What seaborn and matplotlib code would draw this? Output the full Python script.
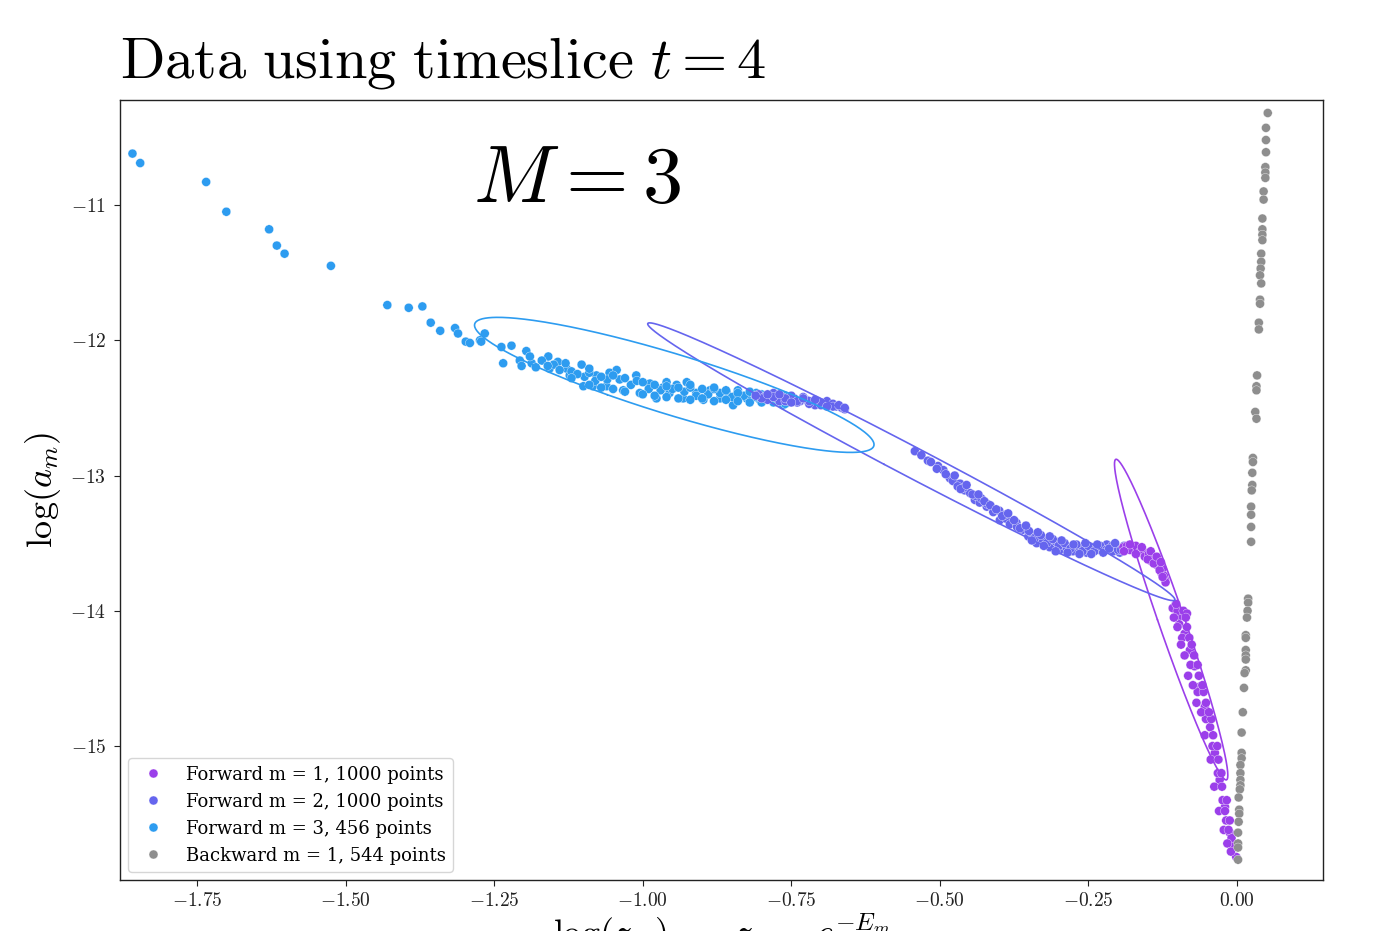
import numpy as np
import pandas as pd
import matplotlib
matplotlib.use("Agg")
import matplotlib.pyplot as plt
import seaborn as sns
from matplotlib.ticker import FixedLocator, FuncFormatter

# ---------------- data ----------------
series_names = ["Forward m = 1, 1000 points", "Forward m = 2, 1000 points",
                "Forward m = 3, 456 points", "Backward m = 1, 544 points"]
series_colors = ["#9B3FEA", "#6565EE", "#2D9CF0", "#8E8E8E"]

m3_x = [-1.859, -1.846, -1.735, -1.701, -1.629, -1.616, -1.603, -1.525, -1.430, -1.394,
        -1.371, -1.357, -1.341, -1.316, -1.311, -1.298, -1.291, -1.274, -1.266, -1.272,
        -1.238, -1.221, -1.235, -1.207, -1.196, -1.204, -1.187, -1.159, -1.157, -1.143,
        -1.128, -1.123, -1.103, -1.098, -1.100, -1.078, -1.084, -1.061, -1.056, -1.044,
        -1.039, -1.033, -1.011, -1.005, -0.988, -0.977, -0.966, -0.955, -0.943, -0.926,
        -0.932, -0.910, -0.898, -0.887, -0.870, -0.859, -0.848, -0.842, -0.825, -0.809,
        -0.803, -0.786, -0.775, -0.764, -1.080, -1.060, -1.020, -0.990, -0.970, -0.950,
        -0.930, -0.910, -0.890, -0.870, -0.850, -0.830, -0.810, -0.790, -0.770, -1.120,
        -1.150, -1.170, -1.010, -0.960, -0.920, -0.880, -0.840, -0.800, -0.760, -0.740,
        -1.09, -1.09, -1.07, -1.07, -1.05, -1.05, -1.03, -1.03, -1.00, -1.00,
        -0.98, -0.98, -0.96, -0.96, -0.94, -0.94, -0.92, -0.92, -0.90, -0.90,
        -0.88, -0.88, -0.86, -0.86, -0.84, -0.84, -0.82, -0.82, -0.80, -0.80,
        -0.78, -0.78, -0.76, -0.76, -1.19, -1.18, -1.16, -1.14, -1.13, -1.11,
        -1.12, -1.09]
m3_y = [-10.62, -10.69, -10.83, -11.05, -11.18, -11.30, -11.36, -11.45, -11.74, -11.76,
        -11.75, -11.87, -11.93, -11.91, -11.95, -12.01, -12.02, -12.00, -11.95, -12.01,
        -12.05, -12.04, -12.17, -12.15, -12.08, -12.19, -12.17, -12.12, -12.21, -12.16,
        -12.21, -12.26, -12.18, -12.27, -12.34, -12.26, -12.34, -12.34, -12.24, -12.22,
        -12.29, -12.37, -12.26, -12.39, -12.32, -12.43, -12.35, -12.39, -12.33, -12.31,
        -12.43, -12.39, -12.44, -12.37, -12.43, -12.38, -12.48, -12.40, -12.43, -12.39,
        -12.44, -12.43, -12.45, -12.48, -12.30, -12.29, -12.33, -12.36, -12.37, -12.36,
        -12.38, -12.41, -12.40, -12.39, -12.42, -12.41, -12.42, -12.41, -12.42, -12.23,
        -12.18, -12.15, -12.30, -12.31, -12.35, -12.36, -12.37, -12.40, -12.44, -12.45,
        -12.24, -12.33, -12.27, -12.35, -12.26, -12.36, -12.28, -12.38, -12.31, -12.40,
        -12.33, -12.41, -12.34, -12.42, -12.35, -12.43, -12.33, -12.44, -12.36, -12.43,
        -12.35, -12.45, -12.37, -12.44, -12.39, -12.45, -12.38, -12.46, -12.42, -12.46,
        -12.43, -12.46, -12.41, -12.47, -12.12, -12.20, -12.19, -12.22, -12.17, -12.25,
        -12.28, -12.21]

m2_x = [-0.805, -0.795, -0.785, -0.775, -0.765, -0.755, -0.745, -0.735, -0.725, -0.715,
        -0.705, -0.695, -0.685, -0.675, -0.665, -0.660, -0.790, -0.770, -0.750, -0.730,
        -0.710, -0.690, -0.700, -0.720, -0.740, -0.760, -0.780, -0.680,
        -0.800, -0.780, -0.760, -0.740, -0.720, -0.700, -0.680, -0.670, -0.660, -0.770,
        -0.750, -0.730, -0.710, -0.690, -0.810, -0.790,
        -0.542, -0.531, -0.520, -0.503, -0.494, -0.483, -0.478, -0.466, -0.458, -0.449,
        -0.441, -0.433, -0.421, -0.410, -0.399, -0.388, -0.382, -0.371, -0.360, -0.351,
        -0.343, -0.337, -0.326, -0.315, -0.304, -0.298, -0.287, -0.276, -0.264, -0.253,
        -0.242, -0.231, -0.219, -0.208, -0.203, -0.197, -0.470, -0.460, -0.440, -0.430,
        -0.420, -0.400, -0.390, -0.370, -0.350, -0.340, -0.330, -0.320, -0.310, -0.300,
        -0.290, -0.280, -0.270, -0.260, -0.250, -0.240, -0.230, -0.220, -0.210, -0.200,
        -0.190, -0.515, -0.505, -0.490, -0.475, -0.465, -0.455, -0.445, -0.435, -0.425,
        -0.415, -0.405, -0.395, -0.385, -0.375, -0.365, -0.355, -0.345, -0.335, -0.325,
        -0.315, -0.305, -0.295, -0.285, -0.275, -0.265, -0.255, -0.245, -0.235, -0.225,
        -0.215, -0.205, -0.195]
m2_y = [-12.40, -12.42, -12.41, -12.43, -12.42, -12.44, -12.43, -12.45, -12.44, -12.46,
        -12.45, -12.47, -12.48, -12.49, -12.50, -12.51, -12.44, -12.45, -12.41, -12.42,
        -12.48, -12.45, -12.48, -12.47, -12.46, -12.45, -12.39, -12.47,
        -12.43, -12.42, -12.43, -12.45, -12.45, -12.46, -12.49, -12.48, -12.50, -12.40,
        -12.46, -12.43, -12.44, -12.49, -12.41, -12.40,
        -12.82, -12.85, -12.89, -12.93, -12.96, -13.02, -13.04, -13.06, -13.11, -13.13,
        -13.18, -13.20, -13.23, -13.27, -13.33, -13.32, -13.36, -13.35, -13.40, -13.45,
        -13.44, -13.50, -13.48, -13.53, -13.49, -13.55, -13.53, -13.56, -13.54, -13.57,
        -13.53, -13.55, -13.51, -13.56, -13.53, -13.57, -13.08, -13.09, -13.15, -13.17,
        -13.21, -13.26, -13.29, -13.38, -13.41, -13.46, -13.44, -13.50, -13.47, -13.52,
        -13.50, -13.54, -13.51, -13.56, -13.52, -13.56, -13.52, -13.55, -13.52, -13.55,
        -13.52, -12.90, -12.95, -12.99, -13.00, -13.10, -13.07, -13.14, -13.14, -13.19,
        -13.22, -13.25, -13.30, -13.28, -13.33, -13.39, -13.37, -13.48, -13.42, -13.52,
        -13.45, -13.56, -13.48, -13.57, -13.51, -13.58, -13.50, -13.58, -13.51, -13.57,
        -13.54, -13.50, -13.55]

m1_x = [-0.191, -0.175, -0.163, -0.152, -0.141, -0.132, -0.127, -0.121, -0.185, -0.180,
        -0.170, -0.165, -0.158, -0.155, -0.148, -0.145, -0.138, -0.135, -0.130, -0.125,
        -0.123, -0.190, -0.180, -0.170, -0.160, -0.150, -0.145, -0.140, -0.135, -0.130,
        -0.128, -0.120, -0.125,
        -0.104, -0.096, -0.088, -0.079, -0.071, -0.062, -0.054, -0.045, -0.037, -0.029,
        -0.020, -0.012, -0.006, -0.001, -0.108, -0.100, -0.090, -0.092, -0.080, -0.078,
        -0.066, -0.066, -0.056, -0.052, -0.043, -0.041, -0.033, -0.032, -0.026, -0.024,
        -0.017, -0.018, -0.012, -0.009, -0.084, -0.097,
        -0.102, -0.106, -0.086, -0.100, -0.084, -0.094, -0.076, -0.088, -0.072, -0.082,
        -0.064, -0.074, -0.058, -0.068, -0.052, -0.060, -0.047, -0.054, -0.040, -0.044,
        -0.031, -0.038, -0.025, -0.030, -0.020, -0.022, -0.014, -0.016, -0.010]
m1_y = [-13.53, -13.54, -13.55, -13.59, -13.62, -13.67, -13.72, -13.77, -13.52, -13.55,
        -13.52, -13.57, -13.56, -13.60, -13.58, -13.63, -13.61, -13.66, -13.64, -13.69,
        -13.74, -13.56, -13.51, -13.58, -13.53, -13.62, -13.56, -13.65, -13.60, -13.70,
        -13.64, -13.79, -13.75,
        -13.96, -14.04, -14.17, -14.29, -14.41, -14.56, -14.71, -14.86, -15.05, -15.25,
        -15.45, -15.64, -15.74, -15.82, -13.98, -14.00, -14.00, -14.20, -14.20, -14.40,
        -14.40, -14.60, -14.60, -14.80, -14.80, -15.00, -15.00, -15.20, -15.20, -15.40,
        -15.40, -15.55, -15.55, -15.68, -14.02, -14.10,
        -13.95, -14.05, -14.05, -14.12, -14.12, -14.25, -14.25, -14.33, -14.33, -14.48,
        -14.48, -14.55, -14.55, -14.68, -14.68, -14.75, -14.75, -14.92, -14.92, -15.10,
        -15.10, -15.30, -15.30, -15.48, -15.48, -15.62, -15.62, -15.72, -15.78]

bw_x = [0.052, 0.049, 0.049, 0.049, 0.048, 0.048, 0.048, 0.045, 0.045, 0.043,
        0.043, 0.043, 0.043, 0.041, 0.041, 0.040, 0.039, 0.041, 0.039, 0.039,
        0.037, 0.037, 0.034, 0.033, 0.033, 0.031, 0.033, 0.027, 0.027, 0.026,
        0.026, 0.025, 0.024, 0.024, 0.024, 0.024,
        0.019, 0.019, 0.018, 0.017, 0.015, 0.015, 0.015, 0.015, 0.015, 0.015,
        0.013, 0.012, 0.010, 0.008, 0.008, 0.008, 0.006, 0.006, 0.006, 0.006,
        0.005, 0.003, 0.004, 0.004, 0.003, 0.002, 0.002, 0.002, 0.002]
bw_y = [-10.32, -10.43, -10.52, -10.61, -10.72, -10.76, -10.80, -10.90, -10.96, -11.10,
        -11.18, -11.22, -11.26, -11.36, -11.42, -11.47, -11.52, -11.58, -11.70, -11.73,
        -11.87, -11.92, -12.26, -12.34, -12.37, -12.53, -12.58, -12.87, -12.90, -12.98,
        -13.07, -13.11, -13.23, -13.29, -13.38, -13.49,
        -13.91, -13.94, -14.00, -14.05, -14.18, -14.20, -14.29, -14.33, -14.36, -14.44,
        -14.46, -14.57, -14.75, -14.90, -15.05, -15.09, -15.14, -15.20, -15.25, -15.29,
        -15.32, -15.38, -15.47, -15.50, -15.56, -15.64, -15.72, -15.75, -15.84]

# Gaussian ellipses fitted to the forward series (m = 1, 2, 3)
ell_color_idx = [0, 1, 2]
ell_cx = [-0.1106, -0.5480, -0.9470]
ell_cy = [-14.065, -12.898, -12.330]
ell_sxx = [0.009096, 0.19692, 0.11305]
ell_syy = [1.40466, 1.05371, 0.24919]
ell_sxy = [-0.10965, -0.45212, -0.14826]

x_ticks = [-1.75, -1.50, -1.25, -1.00, -0.75, -0.50, -0.25, 0.00]
y_ticks = [-11, -12, -13, -14, -15]

# ---------------- figure ----------------
sns.set_theme(style="ticks")
plt.rcParams['font.family'] = ['DejaVu Serif']
plt.rcParams['mathtext.fontset'] = 'cm'
plt.rcParams['text.color'] = 'black'
plt.rcParams['axes.labelcolor'] = 'black'

W, H = 1385, 931
fig = plt.figure(figsize=(W / 100, H / 100), dpi=100)
ax = fig.add_axes([120 / W, 1 - 880 / H, 1203 / W, 780 / H])

# rows in drawing order (m3 underneath, then m2, m1, backward)
df = pd.concat([
    pd.DataFrame({"x": m3_x, "y": m3_y, "series": series_names[2]}),
    pd.DataFrame({"x": m2_x, "y": m2_y, "series": series_names[1]}),
    pd.DataFrame({"x": m1_x, "y": m1_y, "series": series_names[0]}),
    pd.DataFrame({"x": bw_x, "y": bw_y, "series": series_names[3]}),
], ignore_index=True)

palette = dict(zip(series_names, series_colors))
sns.scatterplot(data=df, x="x", y="y", hue="series", hue_order=series_names,
                palette=palette, s=42, edgecolor="white", linewidth=0.25, ax=ax)

t = np.linspace(0, 2 * np.pi, 400)
for ci, cx, cy, sxx, syy, sxy in zip(ell_color_idx, ell_cx, ell_cy, ell_sxx, ell_syy, ell_sxy):
    S = np.array([[sxx, sxy], [sxy, syy]])
    vals, vecs = np.linalg.eigh(S)
    M = vecs @ np.diag(np.sqrt(vals))
    pts = M @ np.vstack([np.cos(t), np.sin(t)])
    ax.plot(cx + pts[0], cy + pts[1], color=series_colors[ci], lw=1.2)

ax.set_xlim(-1.880, 0.145)
ax.set_ylim(-15.99, -10.224)
ax.xaxis.set_major_locator(FixedLocator(x_ticks))
ax.yaxis.set_major_locator(FixedLocator(y_ticks))
ax.xaxis.set_major_formatter(FuncFormatter(lambda v, p: r"$\mathrm{%.2f}$" % v))
ax.yaxis.set_major_formatter(FuncFormatter(lambda v, p: r"$\mathrm{%d}$" % round(v)))
ax.tick_params(axis="both", labelsize=14, length=4.5, width=0.8, pad=5.5,
               colors="#222222")
ax.tick_params(axis="x", pad=4.5)
for sp in ax.spines.values():
    sp.set_color("#222222")
    sp.set_linewidth(1.0)

ax.set_xlabel(r"$\log(z_m),\quad\;\; z_m = e^{-E_m}$", fontsize=26, labelpad=1)
ax.set_ylabel(r"$\log(a_m)$", fontsize=26, labelpad=5)
ax.set_title(r"$\mathrm{Data\ using\ timeslice}\ t = 4$", loc="left", fontsize=42, pad=16)
ax.text(0.38, 0.897, r"$M = 3$", transform=ax.transAxes, fontsize=58,
        ha="center", va="center")

old = ax.get_legend()
handles = old.legend_handles
labels = [tx.get_text() for tx in old.get_texts()]
old.remove()
ax.legend(handles, labels, loc="lower left", fontsize=13, labelspacing=0.5,
          frameon=True, borderaxespad=0.45)

fig.savefig("out.png", dpi=100)
